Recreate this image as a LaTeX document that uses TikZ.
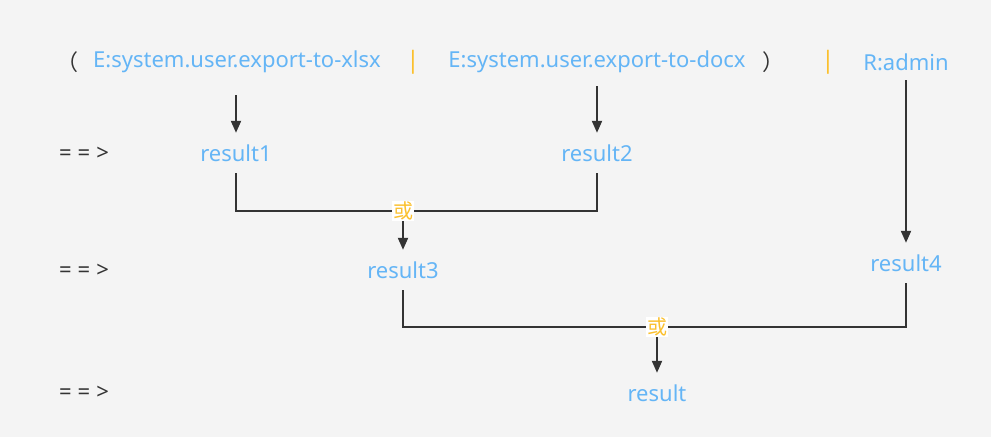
\documentclass[tikz,border=0pt]{standalone}
\usepackage{fontspec}
\setmainfont{Noto Sans}
\newfontfamily\cjk{Noto Sans CJK SC}
\usetikzlibrary{arrows.meta}
\definecolor{bg}{HTML}{F4F4F4}
\definecolor{lblue}{HTML}{64B5F6}
\definecolor{orng}{HTML}{FBC02D}
\definecolor{dark}{HTML}{333333}
\tikzset{
  lbl/.style={text=lblue, font=\fontsize{22}{22}\selectfont, inner sep=0pt, anchor=center},
  res/.style={lbl, minimum height=40pt},
  plain/.style={text=dark, font=\fontsize{22}{22}\selectfont, inner sep=0pt, anchor=center},
  bar/.style={text=orng, font=\fontsize{24}{24}\selectfont\bfseries, inner sep=0pt, anchor=center},
  orbox/.style={fill=white, text=orng, font=\cjk\fontsize{20}{20}\selectfont, inner sep=1pt, anchor=center},
  ln/.style={draw=dark, line width=2pt},
  arr/.style={ln, -{Triangle[length=12pt,width=10pt]}},
}
\begin{document}
\begin{tikzpicture}[x=1pt,y=-1pt]
\fill[bg] (0,0) rectangle (991,437);
\useasboundingbox (0,0) rectangle (991,437);
% top row
\node[plain] (lp) at (67,62) {\cjk （};
\node[lbl] (xlsx) at (237,62) {E:system.user.export-to-xlsx};
\node[bar] (b1) at (413,62) {|};
\node[lbl] (docx) at (597,62) {E:system.user.export-to-docx};
\node[plain] (rp) at (773,62) {\cjk ）};
\node[bar] (b2) at (828,62) {|};
\node[lbl] (adm) at (906,62) {R:admin};
% arrows rows
\node[plain] (i1) at (84,154) {=\hspace{6pt}=\hspace{6pt}>};
\node[plain] (i2) at (84,271) {=\hspace{6pt}=\hspace{6pt}>};
\node[plain] (i3) at (84,393) {=\hspace{6pt}=\hspace{6pt}>};
% results
\node[res] (r1) at (236,153) {result1};
\node[res] (r2) at (597,153) {result2};
\node[res] (r3) at (403,270) {result3};
\node[res] (r4) at (906,263) {result4};
\node[res] (r) at (657,393) {result};
% or labels
\node[orbox] (o1) at (403,211) {或};
\node[orbox] (o2) at (657,327) {或};
% connectors
\coordinate (s1) at (236,95);
\coordinate (s2) at (597,86);
\coordinate (s3) at (906,80);
\draw[arr] (s1) -- (r1.north);
\draw[arr] (s2) -- (r2.north);
\draw[arr] (s3) -- (r4.north);
\draw[ln] (r1.south) |- (o1.west);
\draw[ln] (r2.south) |- (o1.east);
\draw[arr] (o1.south) -- (r3.north);
\draw[ln] (r3.south) |- (o2.west);
\draw[ln] (r4.south) |- (o2.east);
\draw[arr] (o2.south) -- (r.north);
\end{tikzpicture}
\end{document}
